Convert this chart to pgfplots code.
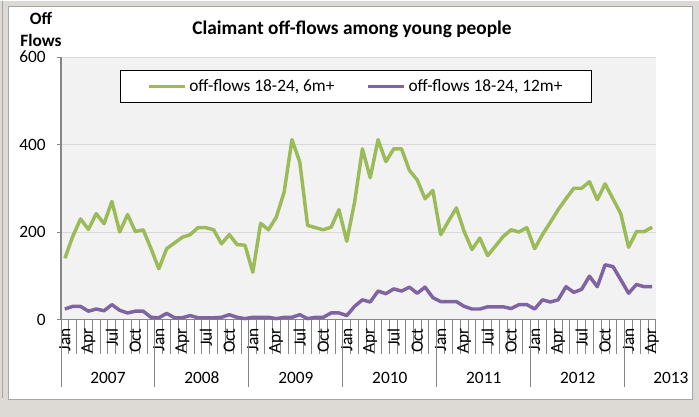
\documentclass[border=0pt]{standalone}
\usepackage{pgfplots}
\pgfplotsset{compat=1.18}
\usepackage{fontspec}
\setmainfont{Carlito}

\definecolor{outerbg}{HTML}{DDD9D4}
\definecolor{boxgray}{HTML}{A6A6A6}
\definecolor{plotbg}{HTML}{F2F2F2}
\definecolor{gridgray}{HTML}{D9D9D9}
\definecolor{axisgray}{HTML}{868686}
\definecolor{sixm}{HTML}{9BBB59}
\definecolor{twelvem}{HTML}{8064A2}

% Monthly claimant off-flows, Jan 2007 (0) to Apr 2013 (75)
\pgfplotstableread{
k  six  twelve
0  140  24
1  190  30
2  230  30
3  206  19
4  242  24
5  219  20
6  270  34
7  200  21
8  240  15
9  201  19
10 205  19
11 162  5
12 116  4
13 162  14
14 175  4
15 188  4
16 194  9
17 210  4
18 210  4
19 205  4
20 173  5
21 194  11
22 171  5
23 170  2
24 108  5
25 220  5
26 205  5
27 234  2
28 291  5
29 411  5
30 360  11
31 215  2
32 210  5
33 205  5
34 211  15
35 251  15
36 179  9
37 268  30
38 390  45
39 324  40
40 411  65
41 361  59
42 390  70
43 390  65
44 341  74
45 319  60
46 276  74
47 295  50
48 194  41
49 225  41
50 255  41
51 201  30
52 160  24
53 186  24
54 146  29
55 168  29
56 190  29
57 205  25
58 200  34
59 210  34
60 162  24
61 194  45
62 222  40
63 251  45
64 276  75
65 300  62
66 300  69
67 315  99
68 274  75
69 310  125
70 276  121
71 242  91
72 165  60
73 201  80
74 201  75
75 211  75
}\offflows

\begin{document}
\begin{tikzpicture}
\begin{scope}[x=0.75pt,y=-0.75pt]
  \fill[outerbg] (0,0) rectangle (699,416);
  \draw[boxgray, line width=0.75pt] (2.5,0) -- (2.5,397);
  \filldraw[fill=white, draw=boxgray, line width=0.75pt] (8.5,5.5) rectangle (692.5,398.5);
  \path[use as bounding box] (0,0) rectangle (699,416);
\end{scope}

\begin{axis}[
  at={(45.75pt,-239.25pt)}, anchor=south west,
  scale only axis,
  width=446.25pt, height=196.875pt,
  xmin=-0.5, xmax=75.5,
  ymin=0, ymax=600,
  axis x line=bottom, axis y line=left,
  axis line style={-, draw=axisgray, line width=1pt},
  axis background/.style={fill=plotbg},
  ytick={0,200,400,600},
  ymajorgrids,
  grid style={gridgray, line width=0.75pt},
  tick align=outside,
  major tick length=3pt,
  tick style={axisgray, line width=0.75pt},
  xtick={0,3,...,75},
  xticklabels={Jan,Apr,Jul,Oct,Jan,Apr,Jul,Oct,Jan,Apr,Jul,Oct,
               Jan,Apr,Jul,Oct,Jan,Apr,Jul,Oct,Jan,Apr,Jul,Oct,Jan,Apr},
  major x tick style={draw=none},
  minor xtick={-0.5,0.5,...,75.5},
  minor tick length=25.5pt,
  minor x tick style={axisgray, line width=0.75pt},
  extra x ticks={-0.5,11.5,23.5,35.5,47.5,59.5,71.5},
  extra x tick labels={},
  extra x tick style={major x tick style={draw=axisgray, line width=0.75pt},
                      major tick length=50.25pt},
  xticklabel style={rotate=90, anchor=east, font=\fontsize{13}{15}\selectfont},
  yticklabel style={font=\fontsize{13}{15}\selectfont, xshift=-5pt},
  /pgf/number format/assume math mode=true,
  clip=false,
  legend columns=2,
  legend style={at={(0.0992,0.952)}, anchor=north west,
                draw=black, line width=0.75pt, fill=white,
                font=\fontsize{13}{15}\selectfont,
                inner xsep=20pt, inner ysep=5pt,
                /tikz/every even column/.append style={column sep=22pt}},
  legend image code/.code={\draw[#1] (0pt,0pt) -- (27pt,0pt);},
]
\addplot[sixm, line width=2.6pt, line join=round] table[x=k, y=six] {\offflows};
\addlegendentry{off-flows 18-24, 6m+}
\addplot[twelvem, line width=2.6pt, line join=round] table[x=k, y=twelve] {\offflows};
\addlegendentry{off-flows 18-24, 12m+}

\foreach \yr/\c in {2007/5.5,2008/17.5,2009/29.5,2010/41.5,2011/53.5,2012/65.5,2013/77.4}{
  \edef\tmp{\noexpand\node[font=\noexpand\fontsize{13}{15}\noexpand\selectfont]
    at (axis cs:\c,0) [yshift=-43.5pt] {\yr};}
  \tmp
}
\end{axis}

\begin{scope}[x=0.75pt,y=-0.75pt]
  \node[font=\fontsize{14.5}{17}\selectfont\bfseries] at (352,29) {Claimant off-flows among young people};
  \node[font=\fontsize{13}{15}\selectfont\bfseries] at (41,18) {Off};
  \node[font=\fontsize{13}{15}\selectfont\bfseries] at (41,40) {Flows};
\end{scope}
\end{tikzpicture}
\end{document}
